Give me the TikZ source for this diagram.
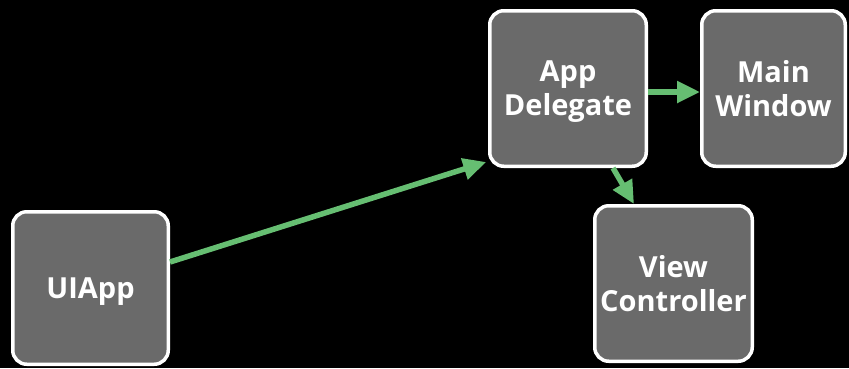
\documentclass[tikz,border=0pt]{standalone}
\usepackage{fontspec}
\setmainfont{Open Sans}
\usepackage{tikz}
\usetikzlibrary{positioning,arrows.meta}

\definecolor{boxgray}{RGB}{106,106,106}
\definecolor{linkgreen}{RGB}{102,190,114}

\begin{document}
\begin{tikzpicture}[x=1pt, y=-1pt,
		objbox/.style={rectangle, rounded corners=14pt, draw=white, line width=3.5pt, fill=boxgray,
			text=white, align=center, text depth=0pt, font=\bfseries\fontsize{29}{34}\selectfont},
		link/.style={linkgreen, line width=5.5pt, -{Triangle[length=23pt,width=21pt]}}]
		\fill[black] (0,0) rectangle (849,368);
		\node[objbox, minimum width=155.5pt, minimum height=152.5pt] (UI) at (90.5, 288) {UIApp};
		\node[objbox, minimum width=156.5pt, minimum height=155.5pt] (AD) at (568, 88.5) {App\\Delegate};
		\node[objbox, minimum width=143.5pt, minimum height=155.5pt] (MW) at (773.5, 88.5) {Main\\Window};
		\node[objbox, minimum width=157.5pt, minimum height=155.5pt] (VC) at (673.5, 283.5) {View\\Controller};
		\draw[link] ([yshift=26pt]UI.east) -- ([xshift=-1.75pt, yshift=6pt]AD.south west);
		\draw[link] ([yshift=-3.5pt]AD.east) -- ([yshift=-3.5pt]MW.west);
		\draw[link] ([xshift=45pt]AD.south) -- ([xshift=-39.5pt]VC.north);
	\end{tikzpicture}
\end{document}
